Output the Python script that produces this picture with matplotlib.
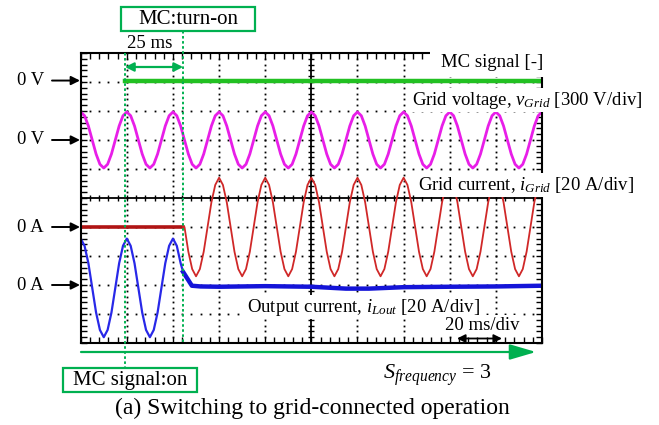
import numpy as np
import matplotlib.pyplot as plt
from matplotlib.patches import Rectangle
from matplotlib.transforms import blended_transform_factory as blend

plt.rcParams['font.family'] = 'Liberation Serif'
plt.rcParams['mathtext.fontset'] = 'custom'
plt.rcParams['mathtext.rm'] = 'Liberation Serif'
plt.rcParams['mathtext.it'] = 'Liberation Serif:italic'

# scope settings
time_div = 20.0   # ms/div
volt_div = 300.0  # V/div
amp_div = 20.0    # A/div
step_ms = 20.0 / 12  # sampling step used when reading the traces

# switching instants [ms]
t_mc_on = 19.2
t_turn_on = 44.4

# channel zero levels [div from screen centre]
zero_mc, zero_v, zero_ig, zero_io = 4.05, 2.0, -1.0, -3.0

# MC signal [-]
mc_t = [t_mc_on, 200.0]
mc_val = [0.0, 0.0]

# grid voltage [V], sampled every step_ms from 0 ms
v_grid = [
    290, 251, 145, 0, -145, -251, -290, -251, -145, 0, 145, 251,
    290, 251, 145, 0, -145, -251, -290, -251, -145, 0, 145, 251,
    290, 251, 145, 0, -145, -251, -290, -251, -145, 0, 145, 251,
    290, 251, 145, 0, -145, -251, -290, -251, -145, 0, 145, 251,
    290, 251, 145, 0, -145, -251, -290, -251, -145, 0, 145, 251,
    290, 251, 145, 0, -145, -251, -290, -251, -145, 0, 145, 251,
    290, 251, 145, 0, -145, -251, -290, -251, -145, 0, 145, 251,
    290, 251, 145, 0, -145, -251, -290, -251, -145, 0, 145, 251,
    290, 251, 145, 0, -145, -251, -290, -251, -145, 0, 145, 251,
    290, 251, 145, 0, -145, -251, -290, -251, -145, 0, 145, 251,
    290]

# grid current [A]: zero before turn-on, then sampled every step_ms from 45 ms
ig_off_t = [0.0, t_turn_on]
ig_off = [0.0, 0.0]
ig_start = 45.0
i_grid = [
    0, -17, -29, -34, -29, -17, 0, 17, 29,
    34, 29, 17, 0, -17, -29, -34, -29, -17, 0, 17, 29,
    34, 29, 17, 0, -17, -29, -34, -29, -17, 0, 17, 29,
    34, 29, 17, 0, -17, -29, -34, -29, -17, 0, 17, 29,
    34, 29, 17, 0, -17, -29, -34, -29, -17, 0, 17, 29,
    34, 29, 17, 0, -17, -29, -34, -29, -17, 0, 17, 29,
    34, 29, 17, 0, -17, -29, -34, -29, -17, 0, 17, 29,
    34, 29, 17, 0, -17, -29, -34, -29, -17, 0, 17, 29,
    34]

# output current [A]: sampled every step_ms before turn-on, read points after
i_out_pre = [
    32, 27, 15, -2, -19, -31, -36, -31, -19, -2, 15, 27,
    32, 27, 15, -2, -19, -31, -36, -31, -19, -2, 15, 27,
    32, 27, 15]
io_post_t = [44.4, 46.4, 48.2, 52, 60, 80, 100, 115, 125, 140, 160, 180, 200]
io_post = [9, 4, -0.5, -1.0, -1.2, -0.8, -1.2, -2.5, -2.5, -1.5, -1.2, -1.0, -0.5]

green = '#00b050'

fig = plt.figure(figsize=(6.59, 4.25), dpi=100)
ax = fig.add_axes([80.7 / 659, 82 / 425, 461.3 / 659, 290 / 425])
ax.set_xlim(0, 10)
ax.set_ylim(-5, 5)

# graticule
dots = np.arange(0, 10.01, 0.2)
for gx in [1, 2, 3, 4, 6, 7, 8, 9]:
    ax.plot(np.full_like(dots, gx), dots - 5, ls='none', marker='s', ms=1.3, color='k', mew=0)
for gy in [-4, -3, -2, -1, 1, 2, 3, 4]:
    ax.plot(dots, np.full_like(dots, gy), ls='none', marker='s', ms=1.3, color='k', mew=0)
ax.axhline(0, color='k', lw=1.3)
ax.axvline(5, color='k', lw=1.3)
ax.plot(dots, np.zeros_like(dots), ls='none', marker='|', ms=5, color='k', mew=1)
ax.plot(np.full_like(dots, 5), dots - 5, ls='none', marker='_', ms=5, color='k', mew=1)
ax.set_xticks(dots)
ax.set_yticks(dots - 5)
ax.tick_params(direction='in', length=4, width=1, top=True, right=True,
               labelbottom=False, labelleft=False)
for s in ax.spines.values():
    s.set_linewidth(1.5)

# traces
t_v = np.arange(len(v_grid)) * step_ms
ax.plot(t_v / time_div, zero_v + np.array(v_grid) / volt_div, color='#e81ee8', lw=2,
        solid_joinstyle='round')
ax.plot(np.array(mc_t) / time_div, zero_mc + np.array(mc_val), color='#22c022', lw=3.2)
ax.plot(np.array(ig_off_t) / time_div, zero_ig + np.array(ig_off) / amp_div,
        color='#b01414', lw=2.6)
t_ig = ig_start + np.arange(len(i_grid)) * step_ms
ax.plot(np.r_[t_turn_on, t_ig] / time_div, zero_ig + np.r_[0, i_grid] / amp_div,
        color='#d02828', lw=1.3, solid_joinstyle='round')
t_io = np.r_[np.arange(len(i_out_pre)) * step_ms, io_post_t[0]]
ax.plot(t_io / time_div, zero_io + np.r_[i_out_pre, io_post[0]] / amp_div,
        color='#2828e8', lw=1.6, solid_joinstyle='round')
ax.plot(np.array(io_post_t) / time_div, zero_io + np.array(io_post) / amp_div,
        color='#1414d8', lw=3.2, solid_joinstyle='round')

# overlay in pixel coordinates for the annotations
ov = fig.add_axes([0, 0, 1, 1], zorder=3)
ov.set_xlim(0, 659)
ov.set_ylim(425, 0)
ov.axis('off')
tx = blend(ax.transData, ov.transData)
ty = blend(ov.transData, ax.transData)

ov.add_patch(Rectangle((430, 44), 122, 33, fc='white', ec='none'))
lab = dict(fontsize=13.5, color='k', bbox=dict(boxstyle='square,pad=0.1', fc='white', ec='none'))
ov.text(543, 62, 'MC signal [-]', ha='right', va='center', **lab)
ov.text(643, 100, r'Grid voltage, $v_{Grid}$ [300 V/div]', ha='right', va='center', **lab)
ov.text(418, 185, r'Grid current, $i_{Grid}$ [20 A/div]', ha='left', va='center', **lab)
ov.text(247, 307, r'Output current, $i_{Lout}$ [20 A/div]', ha='left', va='center', **lab)
ov.text(482, 325, '20 ms/div', ha='center', va='center', **lab)
ov.annotate('', xy=(457, 338.5), xytext=(502, 338.5),
            arrowprops=dict(arrowstyle='<|-|>', color='k', lw=1.3, mutation_scale=12,
                            shrinkA=0, shrinkB=0))

# channel markers
for lvl, txt in [(zero_mc, '0 V'), (zero_v, '0 V'), (zero_ig, '0 A'), (zero_io, '0 A')]:
    ov.annotate('', xy=(80, lvl), xytext=(52, lvl), xycoords=ty, textcoords=ty,
                arrowprops=dict(arrowstyle='-|>', color='k', lw=1.4, mutation_scale=13,
                                shrinkA=0, shrinkB=0))
    ov.text(44, lvl, txt, transform=ty, ha='right', va='center', fontsize=13.5)

# switching markers
ov.plot([t_mc_on / time_div] * 2, [53, 368], transform=tx, color=green, lw=1.4,
        ls=(0, (1.3, 1.3)), clip_on=False)
ov.plot([t_turn_on / time_div] * 2, [31, 343], transform=tx, color=green, lw=1.4,
        ls=(0, (1.3, 1.3)), clip_on=False)
ov.annotate('', xy=(t_mc_on / time_div, 67), xytext=(t_turn_on / time_div, 67),
            xycoords=tx, textcoords=tx,
            arrowprops=dict(arrowstyle='<|-|>', color=green, lw=1.6, mutation_scale=13,
                            shrinkA=0, shrinkB=0))
ov.text(150, 43, '25 ms', ha='center', va='center', fontsize=13.5)

ov.add_patch(Rectangle((120.7, 6.7), 134.3, 24, fill=False, ec=green, lw=1.6))
ov.text(188, 19, 'MC:turn-on', ha='center', va='center', fontsize=15)
ov.add_patch(Rectangle((63.3, 368.3), 133.4, 23.4, fill=False, ec=green, lw=1.6))
ov.text(130, 380, 'MC signal:on', ha='center', va='center', fontsize=15)

ov.annotate('', xy=(536, 352), xytext=(81, 352),
            arrowprops=dict(arrowstyle='-|>,head_length=1.6,head_width=0.47', color=green,
                            lw=1.6, mutation_scale=10, shrinkA=0, shrinkB=0))
ov.text(437, 375, r'$S_{frequency}$ = 3', ha='center', va='center', fontsize=16)
ov.text(312, 408, '(a) Switching to grid-connected operation', ha='center', va='center',
        fontsize=17)

fig.savefig('out.png', dpi=100)
